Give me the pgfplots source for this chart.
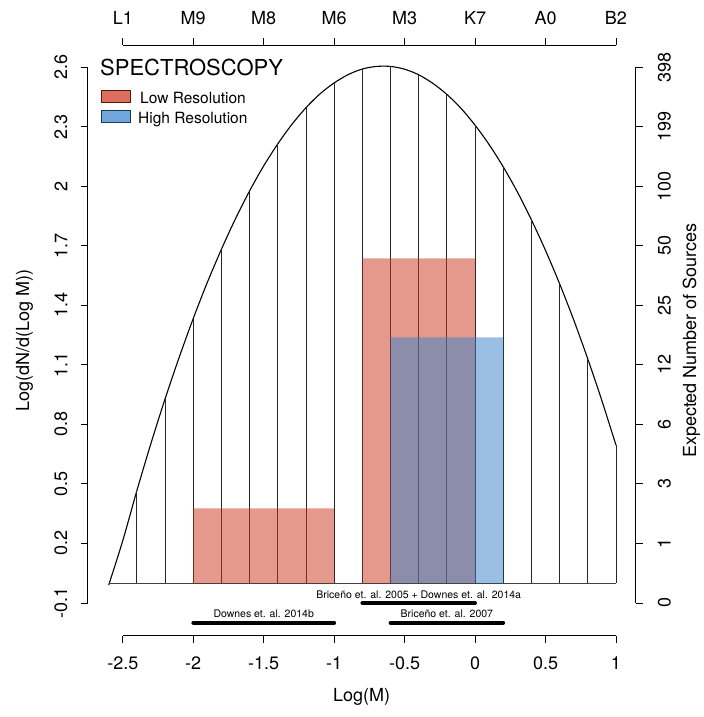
\documentclass[border=0pt]{standalone}
\usepackage{pgfplots}
\pgfplotsset{compat=1.18}
\usepackage{fontspec}
\setmainfont{TeX Gyre Heros}
\definecolor{lowred}{RGB}{204,51,26}
\definecolor{hiblue}{RGB}{51,128,204}
\definecolor{legred}{RGB}{219,112,95}
\definecolor{legblue}{RGB}{112,166,219}
\pgfplotsset{rstyle/.style={scale only axis, width=548pt, height=590.7pt,
  xmin=-2.749, xmax=1.14, ymin=-0.266, ymax=2.71, clip=false,
  axis line style={draw=none}, tick align=outside, major tick length=7pt,
  tick style={black, line width=0.8pt},
  ticklabel style={font=\fontsize{18}{21.6}\selectfont, inner sep=0pt},
  xtick={-2.5,-2,-1.5,-1,-0.5,0,0.5,1},
  ytick={-0.1,0.2,0.5,0.8,1.1,1.4,1.7,2,2.3,2.6},
  at={(87.7pt,81.1pt)}, anchor=south west}}
\begin{document}
\begin{tikzpicture}
\path (0pt,0pt) rectangle (700pt,717pt);
\begin{axis}[rstyle, axis x line*=bottom, axis y line*=left,
  xticklabels={-2.5,-2,-1.5,-1,-0.5,0,0.5,1},
  yticklabels={-0.1,0.2,0.5,0.8,1.1,1.4,1.7,2,2.3,2.6},
  xticklabel style={anchor=north, yshift=-14pt},
  yticklabel style={xshift=-13pt, rotate=90, anchor=south}]
% IMF curve
\addplot[black, line width=1.1pt, smooth] coordinates {
(-2.6,-0.01) (-2.5,0.214) (-2.4,0.466) (-2.3,0.704) (-2.2,0.928) (-2.1,1.137)
(-2.0,1.333) (-1.9,1.515) (-1.8,1.682) (-1.7,1.836) (-1.6,1.976) (-1.5,2.102)
(-1.4,2.213) (-1.3,2.311) (-1.2,2.395) (-1.1,2.465) (-1.0,2.520) (-0.9,2.562)
(-0.8,2.590) (-0.7,2.603) (-0.6,2.603) (-0.5,2.589) (-0.4,2.561) (-0.3,2.518)
(-0.2,2.462) (-0.1,2.392) (0.0,2.307) (0.1,2.209) (0.2,2.097) (0.3,1.971)
(0.4,1.830) (0.5,1.676) (0.6,1.508) (0.7,1.326) (0.8,1.129) (0.9,0.919) (1.0,0.695)};
% vertical bin lines
\addplot[ycomb, black!85, line width=0.8pt, mark=none] coordinates {
(-2.4,0.466) (-2.2,0.928) (-2.0,1.333) (-1.8,1.682) (-1.6,1.976) (-1.4,2.213)
(-1.2,2.395) (-1.0,2.520) (-0.8,2.590) (-0.6,2.603) (-0.4,2.561) (-0.2,2.462)
(0.0,2.307) (0.2,2.097) (0.4,1.830) (0.6,1.508) (0.8,1.129) (1.0,0.695)};
\addplot[black!75, line width=0.8pt] coordinates {(-2.6,0) (1.0,0)};
% bars
\addplot[fill=lowred, fill opacity=0.5, draw=none] coordinates {(-2,0) (-2,0.377) (-1,0.377) (-1,0)} \closedcycle;
\addplot[fill=lowred, fill opacity=0.5, draw=none] coordinates {(-0.8,0) (-0.8,1.636) (0,1.636) (0,0)} \closedcycle;
\addplot[fill=hiblue, fill opacity=0.5, draw=none] coordinates {(-0.6,0) (-0.6,1.238) (0.2,1.238) (0.2,0)} \closedcycle;
% reference ranges
\addplot[black, line width=3.8pt, line cap=round] coordinates {(-0.8,-0.1) (0,-0.1)};
\addplot[black, line width=3.8pt, line cap=round] coordinates {(-2,-0.2) (-1,-0.2)};
\addplot[black, line width=3.8pt, line cap=round] coordinates {(-0.6,-0.2) (0.2,-0.2)};
\node[font=\fontsize{10.5}{12}\selectfont] at (axis cs:-0.4,-0.057) {Briceño et. al. 2005 + Downes et. al. 2014a};
\node[font=\fontsize{10.5}{12}\selectfont] at (axis cs:-1.5,-0.156) {Downes et. al. 2014b};
\node[font=\fontsize{10.5}{12}\selectfont] at (axis cs:-0.2,-0.156) {Briceño et. al. 2007};
% axis lines R-style
\draw[black, line width=0.8pt] (axis cs:-2.5,-0.266) -- (axis cs:1,-0.266);
\draw[black, line width=0.8pt] (axis cs:-2.749,-0.1) -- (axis cs:-2.749,2.6);
\end{axis}
\begin{axis}[rstyle, axis x line*=top, axis y line*=right,
  xticklabels={L1,M9,M8,M6,M3,K7,A0,B2},
  yticklabels={0,1,3,6,12,25,50,100,199,398},
  xticklabel style={anchor=south, yshift=13pt},
  yticklabel style={xshift=15pt, rotate=90, anchor=north}]
\addplot[draw=none] coordinates {(0,1)};
\draw[black, line width=0.8pt] (axis cs:-2.5,2.71) -- (axis cs:1,2.71);
\draw[black, line width=0.8pt] (axis cs:1.14,-0.1) -- (axis cs:1.14,2.6);
\end{axis}
% axis titles
\node[font=\fontsize{18}{21.6}\selectfont] at (361.5pt,20pt) {Log(M)};
\node[font=\fontsize{18}{21.6}\selectfont, rotate=90, anchor=base] at (29pt,376.4pt) {Log(dN/d(Log M))};
\node[font=\fontsize{18}{21.6}\selectfont, rotate=90, anchor=base] at (696pt,376.4pt) {Expected Number of Sources};
% legend
\node[font=\fontsize{22}{26}\selectfont, anchor=base west, inner sep=0pt] at (100pt,641.5pt) {SPECTROSCOPY};
\draw[fill=legred, draw=black!55!lowred, line width=0.8pt] (101.7pt,626.3pt) rectangle (130.7pt,614.3pt);
\draw[fill=legblue, draw=black!55!hiblue, line width=0.8pt] (101.7pt,606.3pt) rectangle (130.7pt,594.3pt);
\node[font=\fontsize{15.5}{18}\selectfont, anchor=base west, inner sep=0pt] at (140pt,613.2pt) {Low Resolution};
\node[font=\fontsize{15.5}{18}\selectfont, anchor=base west, inner sep=0pt] at (138pt,593.8pt) {High Resolution};
\end{tikzpicture}
\end{document}
